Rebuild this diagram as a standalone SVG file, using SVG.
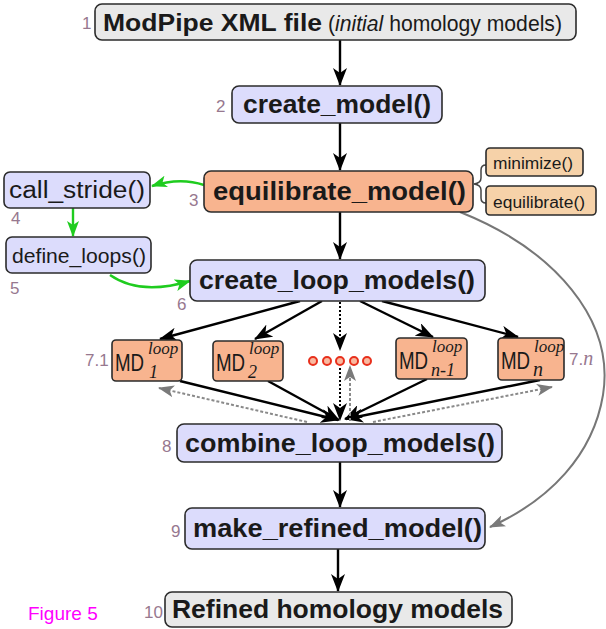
<svg xmlns="http://www.w3.org/2000/svg" width="606" height="629" viewBox="0 0 606 629">
<style>
.box{stroke:#2b2b2b;stroke-width:1.6}
.lav{fill:#dcdcfc}
.sal{fill:#f8b48f}
.tan{fill:#f6d2a9}
.gry{fill:#e9e9e9}
.t{font-family:"Liberation Sans",Arial,sans-serif;fill:#1a1a1a}
.b{font-weight:bold}
.num{font-family:"Liberation Sans",Arial,sans-serif;font-size:17px;fill:#97788f}
.blk{stroke:#000;stroke-width:2.4;fill:none}
.grn{stroke:#1fcc1f;stroke-width:2.4;fill:none}
.gcv{stroke:#777;stroke-width:2;fill:none}
.gdash{stroke:#8a8a8a;stroke-width:2;stroke-dasharray:3 2;fill:none}
.bdot{stroke:#000;stroke-width:2;stroke-dasharray:2 2;fill:none}
.md{font-family:"Liberation Sans",Arial,sans-serif;font-size:24px;fill:#1a1a1a}
.it{font-family:"Liberation Serif","Times New Roman",serif;font-style:italic;fill:#1a1a1a}
.dot{fill:#f9b9a0;stroke:#e8301c;stroke-width:2}
</style>
<defs>
<marker id="ab" viewBox="0 0 18 14" markerWidth="18" markerHeight="14" refX="17" refY="7" orient="auto" markerUnits="userSpaceOnUse"><path d="M0,0 L18,7 L0,14 L5,7 z" fill="#000"/></marker>
<marker id="ag" viewBox="0 0 16 12" markerWidth="16" markerHeight="12" refX="15" refY="6" orient="auto" markerUnits="userSpaceOnUse"><path d="M0,0 L16,6 L0,12 L4,6 z" fill="#1fcc1f"/></marker>
<marker id="ay" viewBox="0 0 16 12" markerWidth="16" markerHeight="12" refX="15" refY="6" orient="auto" markerUnits="userSpaceOnUse"><path d="M0,0 L16,6 L0,12 L4,6 z" fill="#7a7a7a"/></marker>
</defs>

<g id="connectors">
<line class="blk" x1="340" y1="40" x2="340" y2="85" marker-end="url(#ab)"/>
<line class="blk" x1="340" y1="123" x2="340" y2="170" marker-end="url(#ab)"/>
<line class="blk" x1="340" y1="212" x2="340" y2="259" marker-end="url(#ab)"/>
<path class="grn" d="M204,185 Q180,177 152,186" marker-end="url(#ag)"/>
<line class="grn" x1="73" y1="208" x2="73" y2="236" marker-end="url(#ag)"/>
<path class="grn" d="M110,275 Q140,296 190,281" marker-end="url(#ag)"/>
<path class="gcv" d="M460,212 C555,250 615,320 603,395 C593,455 550,500 490,527" marker-end="url(#ay)"/>
<path d="M486,165 Q481,165 481,170 L481,178 Q481,183 474,184 Q481,185 481,190 L481,198 Q481,203 486,203" fill="none" stroke="#444" stroke-width="1.5"/>
<line class="blk" x1="300" y1="301" x2="160" y2="339" marker-end="url(#ab)"/>
<line class="blk" x1="322" y1="301" x2="255" y2="339" marker-end="url(#ab)"/>
<line class="blk" x1="360" y1="301" x2="433" y2="337" marker-end="url(#ab)"/>
<line class="blk" x1="382" y1="301" x2="518" y2="337" marker-end="url(#ab)"/>
<line class="bdot" x1="340" y1="302" x2="340" y2="350" marker-end="url(#ab)"/>
<line class="blk" x1="180" y1="381" x2="338" y2="420" marker-end="url(#ab)"/>
<line class="blk" x1="268" y1="381" x2="339" y2="420" marker-end="url(#ab)"/>
<line class="bdot" x1="340" y1="368" x2="340" y2="420" marker-end="url(#ab)"/>
<line class="blk" x1="427" y1="379" x2="345" y2="419" marker-end="url(#ab)"/>
<line class="blk" x1="540" y1="380" x2="346" y2="419" marker-end="url(#ab)"/>
<line class="gdash" x1="307" y1="422" x2="159" y2="388" marker-end="url(#ay)"/>
<line class="gdash" x1="373" y1="422" x2="552" y2="387" marker-end="url(#ay)"/>
<line class="gdash" x1="350" y1="421" x2="350" y2="366" marker-end="url(#ay)"/>
<line class="blk" x1="340" y1="462" x2="340" y2="507" marker-end="url(#ab)"/>
<line class="blk" x1="338" y1="549" x2="338" y2="591" marker-end="url(#ab)"/>
</g>

<g id="n1">
<rect class="box gry" x="95" y="4" width="481" height="36" rx="7"/>
<text class="num" x="82" y="29">1</text>
<text class="t b" x="103" y="31" font-size="24" textLength="219" lengthAdjust="spacingAndGlyphs">ModPipe XML file</text>
<text class="t" x="328" y="31" font-size="22" textLength="234" lengthAdjust="spacingAndGlyphs">(<tspan font-style="italic">initial</tspan> homology models)</text>
</g>
<g id="n2">
<rect class="box lav" x="232" y="86" width="210" height="37" rx="7"/>
<text class="num" x="216" y="112">2</text>
<text class="t b" x="243" y="113" font-size="25" textLength="188" lengthAdjust="spacingAndGlyphs">create_model()</text>
</g>
<g id="n3">
<rect class="box sal" x="204" y="171" width="269" height="41" rx="7"/>
<text class="num" x="189" y="206">3</text>
<text class="t b" x="213" y="200" font-size="25" textLength="253" lengthAdjust="spacingAndGlyphs">equilibrate_model()</text>
</g>
<g id="n3a">
<rect class="box tan" x="486" y="148" width="97" height="28" rx="4"/>
<text class="t" x="493" y="169" font-size="16" textLength="80" lengthAdjust="spacingAndGlyphs">minimize()</text>
</g>
<g id="n3b">
<rect class="box tan" x="486" y="186" width="110" height="29" rx="4"/>
<text class="t" x="493" y="208" font-size="16" textLength="92" lengthAdjust="spacingAndGlyphs">equilibrate()</text>
</g>
<g id="n4">
<rect class="box lav" x="4" y="172" width="146" height="36" rx="6"/>
<text class="num" x="11" y="224">4</text>
<text class="t" x="9" y="198" font-size="23" textLength="136" lengthAdjust="spacingAndGlyphs">call_stride()</text>
</g>
<g id="n5">
<rect class="box lav" x="6" y="237" width="145" height="36" rx="6"/>
<text class="num" x="10" y="294">5</text>
<text class="t" x="12" y="263" font-size="21" textLength="134" lengthAdjust="spacingAndGlyphs">define_loops()</text>
</g>
<g id="n6">
<rect class="box lav" x="190" y="260" width="295" height="41" rx="7"/>
<text class="num" x="177" y="310">6</text>
<text class="t b" x="199" y="289" font-size="25" textLength="276" lengthAdjust="spacingAndGlyphs">create_loop_models()</text>
</g>
<g id="n7_1">
<rect class="box sal" x="112" y="340" width="70" height="41" rx="4"/>
<text class="num" x="85" y="366">7.1</text>
<text class="md" transform="translate(115 371) scale(0.78 1)">MD</text>
<text class="it" x="148" y="354" font-size="17">loop</text>
<text class="it" x="149" y="378" font-size="18">1</text>
</g>
<g id="n7_2">
<rect class="box sal" x="213" y="341" width="70" height="40" rx="4"/>
<text class="md" transform="translate(216 371) scale(0.78 1)">MD</text>
<text class="it" x="249" y="354" font-size="17">loop</text>
<text class="it" x="248" y="378" font-size="18">2</text>
</g>
<g id="n7_dots">
<circle class="dot" cx="313" cy="361" r="4"/>
<circle class="dot" cx="327" cy="361" r="4"/>
<circle class="dot" cx="340" cy="361" r="4"/>
<circle class="dot" cx="354" cy="361" r="4"/>
<circle class="dot" cx="367" cy="361" r="4"/>
</g>
<g id="n7_n1">
<rect class="box sal" x="396" y="338" width="71" height="41" rx="4"/>
<text class="md" transform="translate(399 369) scale(0.78 1)">MD</text>
<text class="it" x="432" y="352" font-size="17">loop</text>
<text class="it" x="431" y="376" font-size="18">n-1</text>
</g>
<g id="n7_n">
<rect class="box sal" x="498" y="338" width="66" height="42" rx="4"/>
<text class="num" x="569" y="365">7.<tspan font-family="Liberation Serif,serif" font-style="italic" font-size="20">n</tspan></text>
<text class="md" transform="translate(501 369) scale(0.78 1)">MD</text>
<text class="it" x="534" y="352" font-size="17">loop</text>
<text class="it" x="533" y="376" font-size="20">n</text>
</g>
<g id="n8">
<rect class="box lav" x="177" y="424" width="325" height="38" rx="7"/>
<text class="num" x="162" y="452">8</text>
<text class="t b" x="185" y="452" font-size="25" textLength="310" lengthAdjust="spacingAndGlyphs">combine_loop_models()</text>
</g>
<g id="n9">
<rect class="box lav" x="185" y="508" width="300" height="41" rx="7"/>
<text class="num" x="171" y="537">9</text>
<text class="t b" x="193" y="537" font-size="25" textLength="289" lengthAdjust="spacingAndGlyphs">make_refined_model()</text>
</g>
<g id="n10">
<rect class="box gry" x="165" y="592" width="347" height="35" rx="7"/>
<text class="num" x="144" y="618">10</text>
<text class="t b" x="172" y="618" font-size="25" textLength="331" lengthAdjust="spacingAndGlyphs">Refined homology models</text>
</g>
<text x="28" y="620" font-family="Liberation Sans,Arial,sans-serif" font-size="19" fill="#ff00ff">Figure 5</text>
</svg>
